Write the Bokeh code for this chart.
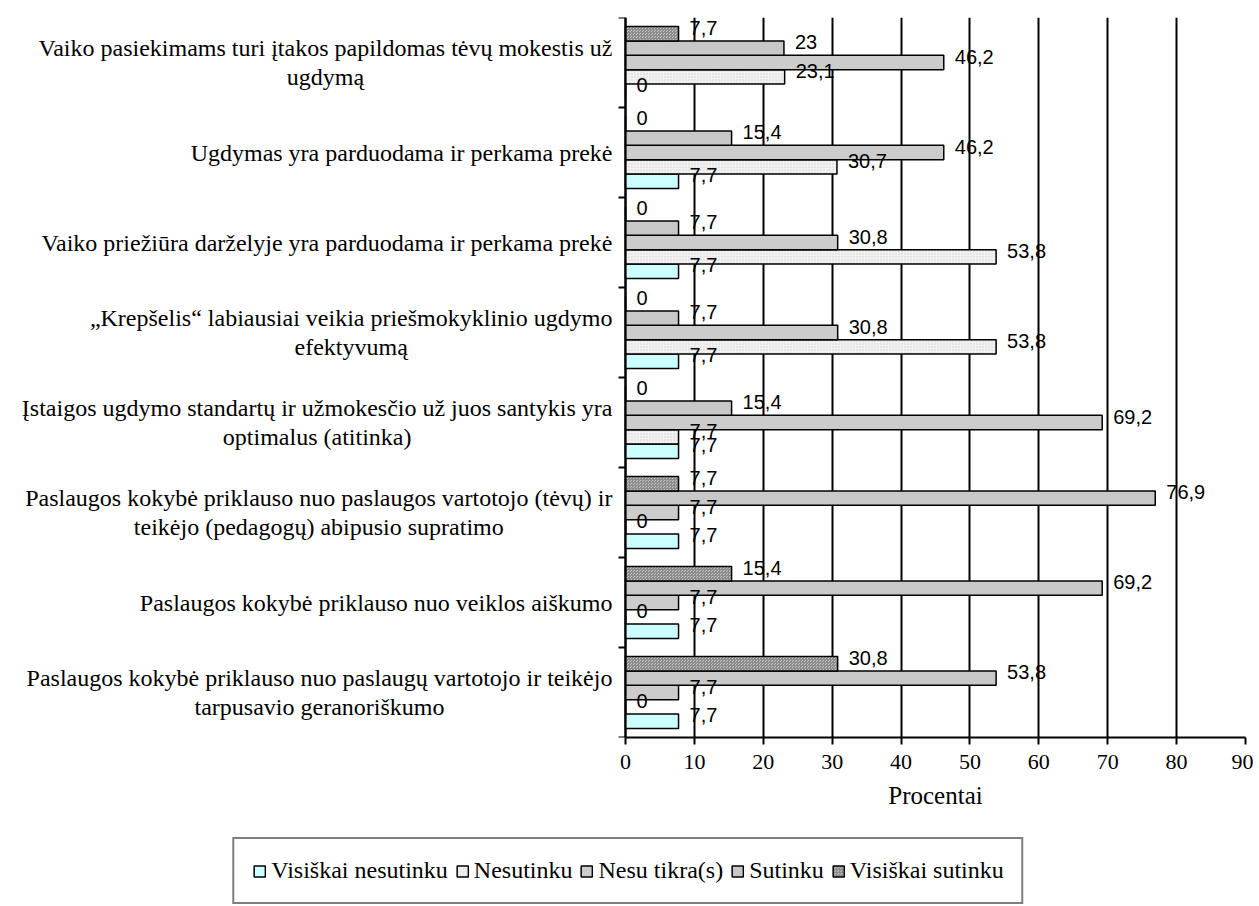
import glob, os
from bokeh.plotting import figure
from bokeh.models import Range1d, FixedTicker, ColumnDataSource, Legend, LegendItem
from bokeh.layouts import column
from bokeh.core.properties import value
from bokeh.embed import file_html
from bokeh.resources import INLINE

# ---- data (categories listed top to bottom) ----
categories = [
    "Vaiko pasiekimams turi įtakos papildomas tėvų mokestis už\nugdymą",
    "Ugdymas yra parduodama ir perkama prekė",
    "Vaiko priežiūra darželyje yra parduodama ir perkama prekė",
    "„Krepšelis“ labiausiai veikia priešmokyklinio ugdymo\nefektyvumą",
    "Įstaigos ugdymo standartų ir užmokesčio už juos santykis yra\noptimalus (atitinka)",
    "Paslaugos kokybė priklauso nuo paslaugos vartotojo (tėvų) ir\nteikėjo (pedagogų) abipusio supratimo",
    "Paslaugos kokybė priklauso nuo veiklos aiškumo",
    "Paslaugos kokybė priklauso nuo paslaugų vartotojo ir teikėjo\ntarpusavio geranoriškumo",
]
series_names = ["Visiškai nesutinku", "Nesutinku", "Nesu tikra(s)", "Sutinku", "Visiškai sutinku"]
visiskai_nesutinku = [0, 7.7, 7.7, 7.7, 7.7, 7.7, 7.7, 7.7]
nesutinku = [23.1, 30.7, 53.8, 53.8, 7.7, 0, 0, 0]
nesu_tikras = [46.2, 46.2, 30.8, 30.8, 69.2, 7.7, 7.7, 7.7]
sutinku = [23, 15.4, 7.7, 7.7, 15.4, 76.9, 69.2, 53.8]
visiskai_sutinku = [7.7, 0, 0, 0, 0, 7.7, 15.4, 30.8]
x_ticks = [0, 10, 20, 30, 40, 50, 60, 70, 80, 90]
x_max = 90
x_title = "Procentai"

series_values = [visiskai_nesutinku, nesutinku, nesu_tikras, sutinku, visiskai_sutinku]
styles = [
    dict(fill_color="#ccffff"),
    dict(fill_color="#f3f3f3", hatch_pattern="dot", hatch_color="#cfcfcf", hatch_scale=3, hatch_weight=1),
    dict(fill_color="#cccccc"),
    dict(fill_color="#c8c8c8"),
    dict(fill_color="#c4c4c4", hatch_pattern="criss_cross", hatch_color="#8c8c8c", hatch_scale=3, hatch_weight=1),
]

SERIF = "Liberation Serif"
SANS = "Liberation Sans"
CAT_FONT_PX = 24

# ---- layout constants (canvas pixels) ----
FRAME_LEFT = 11
FRAME_RIGHT = 1245       # canvas x of value x_max
W = 1253
FRAME_TOP = 17
FRAME_H = 720
BOTTOM1 = 44             # room for x tick labels
TOTAL_H = 904
ZERO_PX = 625            # canvas x of value 0
LABEL_GAP = 13           # gap between category labels and the axis
FRAME_W = FRAME_RIGHT - FRAME_LEFT
H1 = FRAME_TOP + FRAME_H + BOTTOM1
H2 = TOTAL_H - H1
px_per_unit = (FRAME_RIGHT - ZERO_PX) / x_max
x_start = -(ZERO_PX - FRAME_LEFT) / px_per_unit

n = len(categories)
centers = [n - 0.5 - i for i in range(n)]
bar_h = 0.16


def fmt(v):
    if float(v) == int(v):
        return str(int(v))
    return ("%.1f" % v).replace(".", ",")


def find_font(fname):
    for d in ["/usr/share/fonts", "/usr/local/share/fonts", os.path.expanduser("~/.fonts"),
              os.path.expanduser("~/.local/share/fonts")]:
        hits = glob.glob(os.path.join(d, "**", fname), recursive=True)
        if hits:
            return hits[0]
    return None


def text_width(s):
    try:
        from PIL import ImageFont
        path = find_font("LiberationSerif-Regular.ttf")
        f = ImageFont.truetype(path, CAT_FONT_PX)
        return f.getlength(s)
    except Exception:
        return len(s) * CAT_FONT_PX * 0.45


xr = Range1d(x_start, x_max)
p = figure(width=W, height=H1, frame_width=FRAME_W, frame_height=FRAME_H,
           x_range=xr, y_range=Range1d(0, n),
           output_backend="svg", toolbar_location=None,
           min_border_left=FRAME_LEFT, min_border_right=W - FRAME_RIGHT,
           min_border_top=FRAME_TOP, min_border_bottom=BOTTOM1)
p.outline_line_color = None
p.background_fill_color = "white"
p.border_fill_color = "white"

sources = []
for k, (vals, st) in enumerate(zip(series_values, styles)):
    off = -2 * bar_h + bar_h * k
    ys = [c + off for c in centers]
    src = ColumnDataSource(dict(y=ys, right=vals, lab=[fmt(v) for v in vals]))
    sources.append(src)
    p.hbar(y="y", left=0, right="right", height=bar_h, source=src,
           line_color="black", line_width=1.5, **st)

# value labels drawn after all bars so none is hidden
for src in sources:
    p.text(x="right", y="y", text="lab", source=src, x_offset=11, y_offset=-6,
           text_font=value(SANS), text_font_size="20px", text_color="black",
           text_align="left", text_baseline="middle")

# category labels: right-aligned block next to the axis, lines centred
cat_src = ColumnDataSource(dict(
    y=centers, txt=categories,
    xo=[-(LABEL_GAP + max(text_width(line) for line in c.split("\n")) / 2) for c in categories],
))
p.text(x=0, y="y", text="txt", source=cat_src, x_offset="xo", y_offset=0,
       text_font=value(SERIF), text_font_size="%dpx" % CAT_FONT_PX, text_color="black",
       text_align="center", text_baseline="middle", text_line_height=1.12)

# x axis
xa = p.xaxis[0]
xa.bounds = (0, x_max)
xa.ticker = FixedTicker(ticks=x_ticks)
xa.axis_line_color = "black"
xa.axis_line_width = 2
xa.major_tick_line_color = "black"
xa.major_tick_line_width = 2
xa.major_tick_out = 7
xa.major_tick_in = 0
xa.minor_tick_line_color = None
xa.major_label_text_font = SERIF
xa.major_label_text_font_size = "22px"
xa.major_label_text_color = "black"
xa.major_label_standoff = 10

p.xgrid.ticker = FixedTicker(ticks=x_ticks)
p.xgrid.grid_line_color = "black"
p.xgrid.grid_line_width = 2
p.ygrid.grid_line_color = None

# y axis drawn at value 0, ticks between categories, no labels
ya = p.yaxis[0]
ya.fixed_location = 0
ya.ticker = FixedTicker(ticks=[], minor_ticks=list(range(n + 1)))
ya.axis_line_color = "black"
ya.axis_line_width = 2
ya.major_tick_line_color = None
ya.major_tick_out = 0
ya.major_tick_in = 0
ya.minor_tick_line_color = "black"
ya.minor_tick_line_width = 2
ya.minor_tick_out = 7
ya.minor_tick_in = 0
ya.major_label_standoff = 0

# ---- second part: axis title + legend ----
p2 = figure(width=W, height=H2, frame_width=FRAME_W, frame_height=H2,
            x_range=xr, y_range=Range1d(0, H2),
            output_backend="svg", toolbar_location=None,
            x_axis_type=None, y_axis_type=None,
            min_border_left=FRAME_LEFT, min_border_right=W - FRAME_RIGHT,
            min_border_top=0, min_border_bottom=0)
p2.outline_line_color = None
p2.xgrid.grid_line_color = None
p2.ygrid.grid_line_color = None
p2.text(x=[x_max / 2], y=[H2 - (795 - H1)], text=[x_title], text_font=value(SERIF),
        text_font_size="25px", text_color="black", text_align="center", text_baseline="middle")

# legend swatches (hidden behind the legend box itself)
leg_renderers = []
for st in styles:
    leg_renderers.append(p2.hbar(y=[20], left=[0], right=[0.3], height=2,
                                 line_color="black", line_width=1.5, **st))
lg = Legend(items=[LegendItem(label=nm, renderers=[r]) for nm, r in zip(series_names, leg_renderers)],
            orientation="horizontal", location="bottom_center")
lg.margin = 0
lg.padding = 18
lg.spacing = 7
lg.label_standoff = 5
lg.glyph_width = 14
lg.glyph_height = 14
lg.label_text_font = SERIF
lg.label_text_font_size = "24px"
lg.label_text_color = "black"
lg.border_line_color = "black"
lg.border_line_width = 2
lg.background_fill_color = "white"
lg.background_fill_alpha = 1
p2.add_layout(lg)

open("out.html", "w").write(file_html(column(p, p2), INLINE))
